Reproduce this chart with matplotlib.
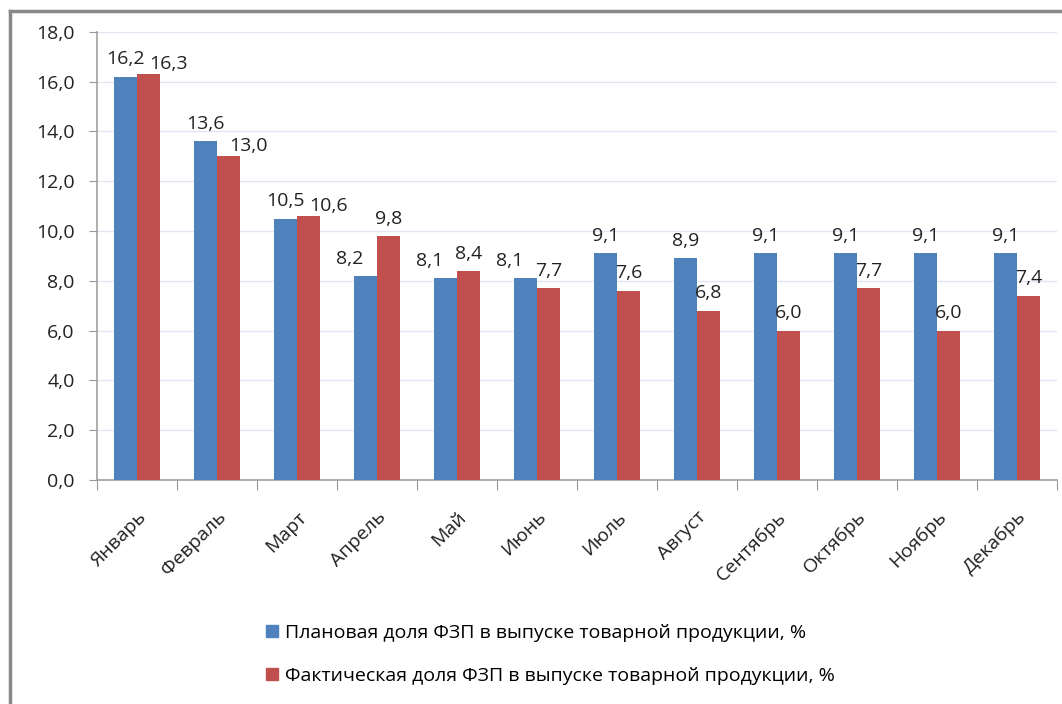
import matplotlib.pyplot as plt
import numpy as np
from matplotlib.lines import Line2D
from matplotlib.patches import Patch

plt.rcParams['font.family'] = ['Open Sans', 'DejaVu Sans']

# -----------------------------
# Data
# -----------------------------
months = ['Январь', 'Февраль', 'Март', 'Апрель', 'Май', 'Июнь',
          'Июль', 'Август', 'Сентябрь', 'Октябрь', 'Ноябрь', 'Декабрь']
plan = [16.2, 13.6, 10.5, 8.2, 8.1, 8.1, 9.1, 8.9, 9.1, 9.1, 9.1, 9.1]
fact = [16.3, 13.0, 10.6, 9.8, 8.4, 7.7, 7.6, 6.8, 6.0, 7.7, 6.0, 7.4]
plan_label = 'Плановая доля ФЗП в выпуске товарной продукции, %'
fact_label = 'Фактическая доля ФЗП в выпуске товарной продукции, %'

blue = '#4F81BD'
red = '#C0504D'
fs = 14

fig = plt.figure(figsize=(10.62, 7.04), dpi=100)
ax = fig.add_axes([0.0913, 0.318, 0.904, 0.637])

x = np.arange(len(months))
w = 0.29
ax.bar(x - w / 2, plan, w, color=blue, zorder=3)
ax.bar(x + w / 2, fact, w, color=red, zorder=3)

fmt = lambda v: f'{v:.1f}'.replace('.', ',')

# value labels; nudge the pair apart where they would collide
for i, (p, f) in enumerate(zip(plan, fact)):
    dx_p, dx_f, dy_f = 0, 0, 6
    if p >= 10:
        dx_f, dy_f = 14, 1
    elif f >= p - 0.5:
        dx_p = -11
    ax.annotate(fmt(p), (x[i] - w / 2, p), xytext=(dx_p, 6),
                textcoords='offset points', ha='center', va='bottom',
                fontsize=fs, color='#222222')
    ax.annotate(fmt(f), (x[i] + w / 2, f), xytext=(dx_f, dy_f),
                textcoords='offset points', ha='center', va='bottom',
                fontsize=fs, color='#222222')

ax.set_xlim(-0.5, len(months) - 0.5)
ax.set_ylim(0, 18)
yt = np.arange(0, 18.1, 2)
ax.set_yticks(yt)
ax.set_yticklabels([fmt(v) for v in yt], fontsize=fs, color='#222222')

# category ticks between groups, labels centred under groups
ax.set_xticks(np.arange(-0.5, len(months)))
ax.set_xticklabels([])
ax.set_xticks(x, minor=True)
ax.set_xticklabels(months, minor=True, rotation=45, ha='right',
                   rotation_mode='anchor', fontsize=fs, color='#222222')
ax.tick_params(axis='x', which='minor', length=0, pad=20)
ax.tick_params(axis='x', which='major', length=7, color='#999999', direction='out')
ax.tick_params(axis='y', length=6, color='#999999', direction='out', pad=10)

ax.grid(axis='y', color='#E0E7F2', linewidth=1, zorder=0)
for s in ('top', 'right'):
    ax.spines[s].set_visible(False)
for s in ('left', 'bottom'):
    ax.spines[s].set_color('#A0A0A0')
    ax.spines[s].set_linewidth(1.2)

handles = [Patch(color=blue), Patch(color=red)]
fig.legend(handles, [plan_label, fact_label], loc='upper left',
           bbox_to_anchor=(0.243, 0.125), frameon=False,
           fontsize=fs, handlelength=0.6, handleheight=0.6, handletextpad=0.4,
           labelspacing=1.3, borderaxespad=0)

# outer frame (top and left edges visible in the reference)
fig.add_artist(Line2D([0.009, 1.0], [0.985, 0.985], color='#888888', linewidth=2.5,
                      transform=fig.transFigure))
fig.add_artist(Line2D([0.009, 0.009], [0.0, 0.985], color='#888888', linewidth=2.5,
                      transform=fig.transFigure))

fig.savefig('out.png', dpi=100)
plt.close(fig)
